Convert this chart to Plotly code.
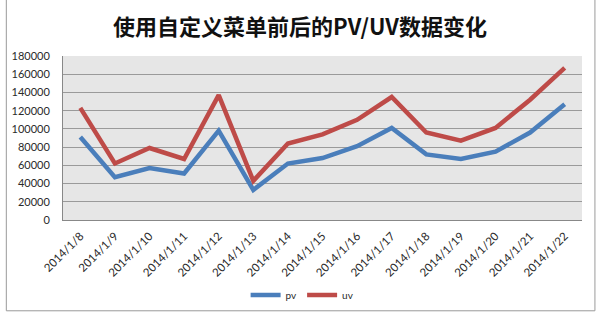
import plotly.graph_objects as go

dates = ["2014/1/8", "2014/1/9", "2014/1/10", "2014/1/11", "2014/1/12", "2014/1/13",
         "2014/1/14", "2014/1/15", "2014/1/16", "2014/1/17", "2014/1/18", "2014/1/19",
         "2014/1/20", "2014/1/21", "2014/1/22"]
pv = [91000, 47000, 57000, 51000, 98000, 33000, 62000, 68000, 81000, 101000,
      72000, 67000, 75000, 96000, 127000]
uv = [123000, 62000, 79000, 67000, 137000, 43000, 84000, 94000, 110000, 135000,
      96000, 87000, 101000, 132000, 167000]
y_ticks = [0, 20000, 40000, 60000, 80000, 100000, 120000, 140000, 160000, 180000]

fig = go.Figure()
fig.add_trace(go.Scatter(x=dates, y=pv, name="pv", mode="lines",
                         line=dict(color="#4a7ebb", width=4.5)))
fig.add_trace(go.Scatter(x=dates, y=uv, name="uv", mode="lines",
                         line=dict(color="#be4b48", width=4.5)))

fig.update_layout(
    width=600, height=322,
    margin=dict(l=60, r=18, t=56, b=98),
    paper_bgcolor="white",
    plot_bgcolor="#e6e6e6",
    title=dict(text="使用自定义菜单前后的PV/UV数据变化", x=300 / 600, xref="container", xanchor="center",
               y=0.915, yref="container", yanchor="middle",
               font=dict(family="Noto Sans CJK SC", size=22, color="#111111", weight="bold")),
    font=dict(family="Lato, Open Sans, sans-serif", size=11, color="#2a2a2a"),
    showlegend=True,
    legend=dict(orientation="h", x=(301 - 60) / 522, xanchor="center", y=-0.458, yanchor="middle",
                font=dict(size=10, color="#2a2a2a"), itemwidth=30,
                bgcolor="rgba(0,0,0,0)", tracegroupgap=0),
    xaxis=dict(type="category", range=[-0.5, 14.5], tickangle=-45, showgrid=False,
               showline=True, linecolor="#888888", linewidth=1, ticks="",
               ticklabelstandoff=4, tickfont=dict(size=11.5, color="#2a2a2a")),
    yaxis=dict(range=[0, 180000], tickvals=y_ticks, ticktext=[str(v) for v in y_ticks],
               showgrid=True, gridcolor="#9a9a9a", gridwidth=1, zeroline=False,
               showline=True, linecolor="#888888", linewidth=1, ticks="",
               ticklabelstandoff=10, tickfont=dict(size=11, color="#2a2a2a")),
    shapes=[dict(type="rect", xref="paper", yref="paper",
                 x0=(3 - 60) / 522, x1=(595 - 60) / 522,
                 y0=(224 - 317) / 168, y1=(224 + 4) / 168,
                 line=dict(color="#9a9a9a", width=1), layer="below")],
)

fig.write_html("out.html")
